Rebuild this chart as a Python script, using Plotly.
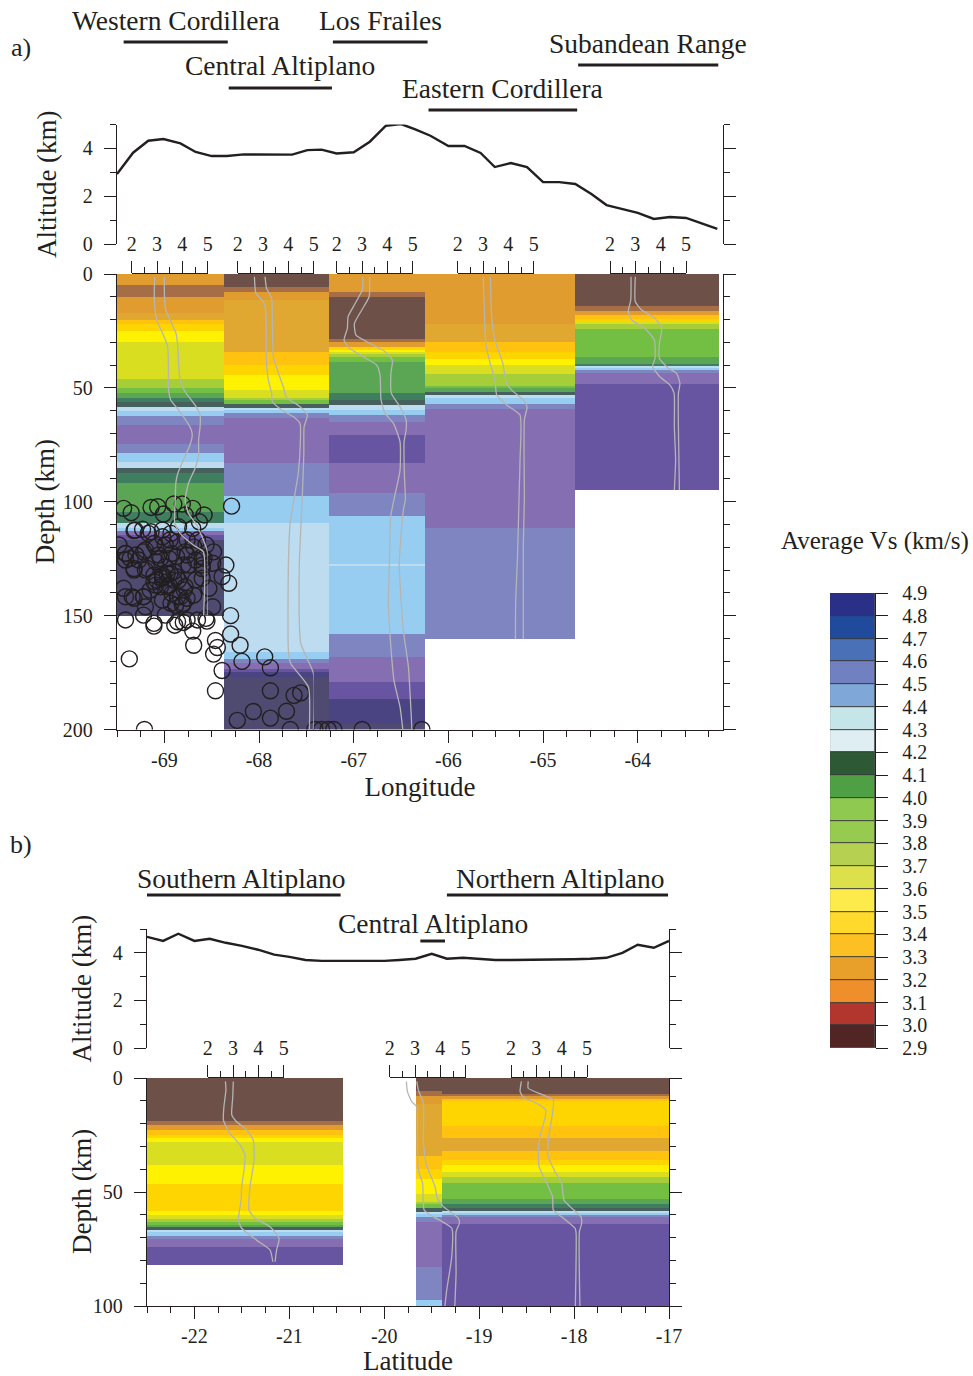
import plotly.graph_objects as go

W, H = 973, 1376
FONT = "Liberation Serif"
INK = "#231f20"

# ---------- data ----------
# Section colours, one per velocity band (Vs value -> colour)
VS_LEVELS = [3.05, 3.15, 3.25, 3.35, 3.45, 3.55, 3.65, 3.75, 3.85, 3.95,
             4.05, 4.15, 4.25, 4.35, 4.45, 4.55, 4.65, 4.75, 4.85, 4.95]
VS_COLORS = ["#6d5048", "#a56e47", "#e09c2f", "#e0a830", "#ffc20e", "#ffd500", "#fff200",
             "#d9df20", "#a6ce39", "#72bf44", "#5aa655", "#3f7f5f", "#46605e", "#bddcf0",
             "#97cdf0", "#7f85c1", "#856fb2", "#6855a2", "#4a4483", "#4f4a70"]

# Colour bar
CB_EDGES = [2.9, 3.0, 3.1, 3.2, 3.3, 3.4, 3.5, 3.6, 3.7, 3.8, 3.9, 4.0, 4.1, 4.2, 4.3, 4.4, 4.5, 4.6, 4.7, 4.8, 4.9]
CB_COLORS = ["#512524", "#b2352e", "#ee8f2c", "#e9a02b", "#fdc022", "#ffd92b", "#fceb4a", "#dce04a",
             "#b6d152", "#96cb50", "#8fc950", "#4fa044", "#2d5a35", "#dfeef2", "#c5e5e8", "#7fa8d8",
             "#7080c0", "#4a70b8", "#204a9c", "#2a3088"]

# Panel a, columns
A_EDGES = [-69.5, -68.367, -67.259, -66.25, -64.667, -63.143]
A1_TOP = [0, 4.8, 10.1, 17.1, 20.2, 21.8, 24.9, 29.9, 46.1, 50.1, 52.3, 54.5, 56.2, 58.4, 60.2, 62.4, 66.3, 74.7, 78.6, 82.6, 85.2, 87.4, 91.8, 104.5, 109.4, 111.5, 113, 114.8, 116.8]
A1_VS = [3.25, 3.15, 3.25, 3.35, 3.45, 3.55, 3.65, 3.75, 3.85, 3.95, 4.05, 4.15, 4.25, 4.35, 4.45, 4.55, 4.65, 4.55, 4.45, 4.35, 4.25, 4.15, 4.05, 4.15, 4.35, 4.45, 4.65, 4.75, 4.95]
A1_END = 150.2
A2_TOP = [0, 5.7, 7.9, 11.4, 34.3, 40, 44.4, 51, 54.5, 55.3, 57.1, 58.9, 59.7, 61, 63.3, 83, 97.5, 109.4, 166, 169, 171, 173.5, 174.8, 177]
A2_VS = [3.05, 3.15, 3.25, 3.35, 3.45, 3.55, 3.65, 3.75, 3.85, 3.95, 4.25, 4.35, 4.45, 4.55, 4.65, 4.55, 4.45, 4.35, 4.45, 4.55, 4.65, 4.75, 4.85, 4.95]
A2_END = 200
A3_TOP = [0, 7.9, 10.1, 28.6, 29.9, 32.1, 33.4, 34.3, 35.1, 36.5, 38.7, 52.3, 55.3, 57.5, 59.7, 61.9, 65, 70.7, 83, 96.3, 106.3, 127.3, 128.2, 158, 168.1, 179, 186.5, 197.5]
A3_VS = [3.25, 3.15, 3.05, 3.15, 3.25, 3.55, 3.65, 3.75, 3.85, 3.95, 4.05, 4.15, 4.25, 4.35, 4.45, 4.55, 4.65, 4.75, 4.65, 4.55, 4.45, 4.35, 4.45, 4.55, 4.65, 4.75, 4.85, 4.95]
A3_END = 200
A4_TOP = [0, 22, 29.9, 34.3, 37.3, 40, 43.9, 49.2, 50.1, 51.8, 53.1, 54.5, 57.1, 59.3, 111.5]
A4_VS = [3.25, 3.35, 3.45, 3.55, 3.65, 3.75, 3.85, 3.95, 4.05, 4.25, 4.35, 4.45, 4.55, 4.65, 4.55]
A4_END = 160.3
A5_TOP = [0, 14.1, 16.3, 18, 19.8, 21.1, 22, 24.2, 36.5, 39.5, 40.4, 41.2, 42.2, 43.5, 45.2, 48.3]
A5_VS = [3.05, 3.15, 3.25, 3.45, 3.55, 3.75, 3.85, 3.95, 4.05, 4.15, 4.35, 4.45, 4.55, 4.65, 4.65, 4.75]
A5_END = 94.9

# Panel b, columns
B_EDGES = [-22.5, -20.44, -19.669, -19.395, -17.0]
B1_TOP = [0, 18.9, 20.6, 22.8, 25, 26.3, 28.1, 38.2, 46.5, 58.3, 60.1, 61.8, 63.2, 64.5, 65.4, 66.7, 67.5, 69.3, 70.6, 74.1]
B1_VS = [3.05, 3.15, 3.25, 3.45, 3.55, 3.65, 3.75, 3.65, 3.55, 3.65, 3.75, 3.85, 3.95, 4.05, 4.25, 4.35, 4.45, 4.55, 4.65, 4.75]
B1_END = 82
B2_TOP = [0, 5.7, 7.9, 11.4, 34.2, 39.9, 44.3, 50.9, 54.4, 55.3, 57, 58.8, 59.6, 61, 63.2, 82.9, 97.4]
B2_VS = [3.05, 3.15, 3.25, 3.35, 3.45, 3.55, 3.65, 3.75, 3.85, 3.95, 4.25, 4.35, 4.45, 4.55, 4.65, 4.55, 4.45]
B2_END = 100
B3_TOP = [0, 7, 7.9, 9.2, 10.1, 21, 26.3, 32, 36, 38.2, 41.2, 43.4, 46.1, 53.1, 55.3, 57, 58.3, 59.2, 60.1, 61, 64]
B3_VS = [3.05, 3.15, 3.25, 3.45, 3.55, 3.45, 3.35, 3.45, 3.55, 3.65, 3.75, 3.85, 3.95, 4.05, 4.15, 4.25, 4.35, 4.45, 4.55, 4.65, 4.75]
B3_END = 100

# Altitude profiles
ALT_A_LON = [-69.5, -69.33, -69.17, -69.01, -68.83, -68.67, -68.5, -68.34, -68.16, -67.99, -67.83, -67.65, -67.49, -67.34, -67.18, -67, -66.83, -66.66, -66.5, -66.35, -66.19, -66, -65.83, -65.66, -65.51, -65.34, -65.17, -65, -64.83, -64.66, -64.49, -64.33, -64.16, -64, -63.83, -63.66, -63.49, -63.32, -63.16]
ALT_A_KM = [2.93, 3.82, 4.32, 4.39, 4.21, 3.85, 3.68, 3.68, 3.75, 3.74, 3.74, 3.74, 3.93, 3.95, 3.79, 3.84, 4.28, 4.95, 5.02, 4.8, 4.53, 4.1, 4.1, 3.81, 3.22, 3.39, 3.22, 2.59, 2.59, 2.51, 2.09, 1.63, 1.46, 1.3, 1.05, 1.13, 1.09, 0.84, 0.63]
ALT_B_LAT = [-22.5, -22.33, -22.17, -22, -21.84, -21.67, -21.5, -21.33, -21.16, -21, -20.83, -20.66, -20.49, -20.33, -20.16, -20, -19.84, -19.67, -19.5, -19.34, -19.17, -19, -18.83, -18.66, -18.49, -18.32, -18.17, -18, -17.83, -17.66, -17.49, -17.33, -17.16, -17]
ALT_B_KM = [4.67, 4.5, 4.8, 4.5, 4.59, 4.42, 4.29, 4.13, 3.92, 3.83, 3.7, 3.66, 3.66, 3.66, 3.66, 3.66, 3.7, 3.75, 3.96, 3.75, 3.79, 3.75, 3.7, 3.7, 3.7, 3.7, 3.7, 3.73, 3.75, 3.79, 4.0, 4.34, 4.21, 4.5]

# Velocity-depth envelopes (Vs km/s, depth km): left and right curve for each column
P_A1_LV = [2.91, 2.89, 2.92, 3.01, 3.25, 3.42, 3.45, 3.45, 3.54, 3.91, 4.33, 4.39, 4.30, 4.04, 3.82, 3.74, 3.72, 3.70, 3.70, 3.91, 4.43, 4.83, 4.84]
P_A1_LD = [1.2, 8.5, 15.8, 20.9, 26.8, 31.9, 42.2, 50.2, 55.3, 60.5, 67.8, 70.7, 75.1, 81.7, 87.5, 91.9, 99, 103.7, 109.5, 113.9, 119, 122, 149.8]
P_A1_RV = [3.29, 3.29, 3.34, 3.55, 3.75, 3.82, 3.86, 3.91, 4.11, 4.50, 4.70, 4.70, 4.64, 4.64, 4.50, 4.24, 4.11, 4.24, 4.57, 4.99, 4.99]
P_A1_RD = [1.2, 8.5, 15.8, 20.9, 26.1, 31.9, 40.7, 46.6, 51.7, 57.5, 61.9, 67.1, 72.9, 79.5, 85.4, 91.9, 99.3, 105.1, 110.3, 122, 149.8]
P_A2_LV = [2.66, 2.72, 3.01, 3.11, 3.13, 3.21, 3.34, 3.37, 3.74, 4.20, 4.46, 4.46, 4.39, 4.26, 4.07, 4.0, 4.0, 4.09, 4.79, 4.83]
P_A2_LD = [1.2, 8.5, 12.2, 15.8, 37.8, 46.6, 52.4, 56.1, 59.7, 62.7, 65.6, 77.3, 87.6, 96.4, 109.5, 128.6, 165.2, 171, 181.3, 200]
P_A2_RV = [3.08, 3.14, 3.34, 3.37, 3.41, 3.61, 3.80, 3.91, 4.46, 4.75, 4.62, 4.61, 4.55, 4.43, 4.49, 4.99, 4.99]
P_A2_RD = [1.2, 6.3, 10.7, 23.1, 36.3, 43.6, 49.5, 53.9, 58.3, 61.9, 67.1, 78.8, 97.8, 128.6, 162.2, 175.4, 200]
P_A3_LV = [3.03, 3.01, 2.66, 2.45, 2.42, 2.29, 2.46, 3.05, 3.58, 3.71, 3.75, 3.91, 4.24, 4.50, 4.50, 4.26, 4.13, 4.08, 4.04, 4.11, 4.26, 4.50, 4.61]
P_A3_LD = [1.2, 7, 14.3, 18.7, 23.9, 29, 32.2, 36.3, 40, 44.4, 55.3, 61.2, 65.6, 73.6, 86.1, 99.1, 106.6, 127.4, 144.7, 159.3, 178.4, 190.1, 200]
P_A3_RV = [3.30, 3.28, 2.99, 2.70, 2.76, 3.32, 3.91, 4.20, 4.14, 4.16, 4.50, 4.74, 4.74, 4.66, 4.67, 4.71, 4.63, 4.47, 4.63, 4.83, 4.97]
P_A3_RD = [1.2, 10, 15.8, 21.7, 26.8, 30.5, 34.1, 37.8, 43.6, 52.4, 58.3, 64.1, 68.5, 73.6, 87.6, 99.1, 103.7, 127.4, 156.4, 172.5, 200]
P_A4_LV = [3.01, 3.05, 3.11, 3.28, 3.47, 3.54, 3.93, 4.46, 4.46, 4.43, 4.36, 4.29, 4.28]
P_A4_LD = [1.2, 15.8, 30.5, 39.2, 46.6, 53.1, 57.5, 61.9, 81.7, 94.9, 124.2, 143.2, 160.3]
P_A4_RV = [3.29, 3.34, 3.47, 3.78, 3.93, 4.13, 4.59, 4.74, 4.63, 4.63, 4.59, 4.59]
P_A4_RD = [1.2, 18.7, 29, 39.2, 48, 51, 55.3, 58.3, 64.1, 99.1, 119.8, 160.3]
P_A5_LV = [2.83, 2.82, 2.72, 2.86, 3.38, 3.75, 3.78, 3.68, 3.97, 4.37, 4.53, 4.54, 4.59, 4.54]
P_A5_LD = [1.2, 11.4, 16.5, 20.2, 23.9, 29, 37, 40.7, 45.1, 48.8, 52.4, 67.1, 81.7, 94.9]
P_A5_RV = [3.0, 3.0, 3.25, 3.78, 4.04, 3.95, 3.95, 4.30, 4.63, 4.76, 4.70, 4.70, 4.74]
P_A5_RD = [1.2, 12.2, 15.8, 19.5, 23.9, 30.5, 37, 41.4, 43.6, 48, 52.4, 67.1, 94.9]
P_B1_LV = [2.70, 2.72, 2.64, 2.62, 2.82, 3.28, 3.47, 3.45, 3.34, 3.32, 3.21, 3.34, 3.93, 4.46, 4.57]
P_B1_LD = [1.5, 5.3, 12.6, 18.4, 23.5, 29.4, 33.8, 38.9, 47.7, 53.5, 62.3, 65.9, 71.1, 75.4, 80.6]
P_B1_RV = [3.01, 2.99, 2.95, 3.14, 3.54, 3.80, 3.83, 3.67, 3.63, 3.87, 4.46, 4.82, 4.72, 4.66]
P_B1_RD = [1.5, 8.2, 16.2, 19.2, 22.8, 27.2, 36, 47.7, 57.9, 61.5, 65.2, 70.3, 75.4, 80.6]
P_B2_LV = [2.66, 2.70, 2.87, 3.07, 3.09, 3.13, 3.30, 3.36, 3.72, 4.45, 4.45, 4.25, 4.18]
P_B2_LD = [1.5, 6, 10.4, 12.6, 27.2, 40.4, 46.2, 57.9, 60.8, 65.9, 78.4, 93, 100]
P_B2_RV = [3.07, 3.13, 3.33, 3.33, 3.43, 3.79, 3.88, 4.12, 4.71, 4.75, 4.62, 4.62, 4.57]
P_B2_RD = [1.5, 5.3, 11.1, 27.2, 37.4, 47.7, 52.8, 56.4, 61.5, 63.7, 67.4, 85.7, 100]
P_B3_LV = [2.41, 2.36, 2.49, 3.01, 3.37, 3.34, 3.14, 3.08, 3.11, 3.41, 3.64, 3.67, 4.07, 4.53, 4.57, 4.54]
P_B3_LD = [1.5, 6, 8.5, 11.1, 14, 17.7, 25.7, 33, 38.9, 46.2, 52, 57.9, 61.5, 65.9, 68.1, 100]
P_B3_RV = [2.68, 2.68, 3.28, 3.67, 3.64, 3.47, 3.47, 3.74, 4.0, 4.09, 4.33, 4.76, 4.79, 4.70, 4.72]
P_B3_RD = [1.5, 4.5, 7.5, 9.6, 15.5, 27.2, 34.5, 41.1, 46.2, 53.5, 56.4, 60.8, 63.7, 67.4, 100]

# Earthquakes
EQ_LON = [-69.43, -69.35, -69.14, -69.07, -69.01, -68.90, -68.81, -68.70, -68.58, -68.63, -68.78, -69.32, -69.23, -69.14, -69.02, -68.93, -68.85, -68.70, -68.56, -68.48, -68.65, -68.76, -68.86, -68.99, -69.09, -69.20, -69.30, -69.41, -69.48, -68.92, -69.06, -68.76, -68.60,
          -69.41, -69.32, -69.20, -69.09, -68.99, -68.90, -69.02, -69.09, -68.95, -68.85, -68.79, -68.86, -68.93, -68.81, -68.76, -68.69, -68.60, -68.49, -68.60, -68.53, -69.43, -69.34, -69.22, -69.20, -69.41, -69.22, -68.99, -68.49, -68.35, -68.39, -68.32, -68.30, -69.11, -68.86, -68.76, -68.65, -68.56, -69.02, -68.97, -68.90, -69.11, -68.74, -68.67,
          -68.29, -69.11, -68.70, -68.69, -68.46, -68.44, -68.48, -68.39, -68.46, -69.21, -69.37, -68.30, -68.20, -68.18, -67.94, -67.88, -67.88, -67.56, -67.63, -67.71, -67.88, -68.06, -68.23, -67.67, -67.41, -67.34, -67.27, -67.21, -68.89, -68.80, -68.55, -66.91, -66.28,
          -69.08, -69.01, -68.94, -68.97, -69.04, -69.11, -68.87, -68.80, -68.87, -68.95, -69.04, -69.18, -69.27, -69.36, -69.41, -69.32, -69.22, -69.15, -69.02, -68.92, -68.83, -68.78, -68.67, -68.60, -68.58, -68.69, -68.78, -68.88, -68.80, -69.22, -69.11, -68.94, -69.02, -69.17, -69.31, -69.41, -69.32]
EQ_DEPTH = [102.9, 104.8, 102.5, 102.2, 105.4, 101, 101, 102.9, 105.8, 108.8, 105.8, 112.7, 112.1, 113.2, 115.4, 113.9, 111, 111.7, 119, 122, 116.8, 116.8, 117.6, 119, 119.8, 121.2, 123.4, 122.7, 119, 122.7, 123.4, 123.4, 124.1,
            125.6, 129.3, 130, 126.3, 128.5, 130.7, 133.6, 136.6, 136.6, 134.4, 138.8, 141.7, 144.6, 145.4, 142.4, 141, 129.3, 127, 133.6, 138, 138, 141.7, 141.7, 146.1, 151.9, 149.8, 149.8, 146.1, 127.8, 132.9, 135.8, 150, 153.4, 152.7, 151.9, 151.9, 151.2, 132.2, 131.5, 134.4, 132.2, 127.8, 125.6,
            101.9, 154.6, 156.8, 163, 160.9, 164, 166.9, 174.1, 183, 200, 169, 158.1, 163, 170.1, 168.1, 172.9, 183, 183.9, 185, 192, 195, 192.1, 196, 200, 200, 200, 200, 200, 154.2, 153, 152.4, 200, 200,
            134.4, 132.9, 131.5, 137.3, 137.3, 135.1, 132.9, 127.8, 124.1, 124.9, 124.9, 129.3, 125.6, 124.9, 122.7, 130, 141.7, 138.8, 143.2, 140.3, 141.7, 137.3, 134.4, 127.8, 124.9, 119.8, 122, 145.4, 144.6, 122, 118.3, 116.8, 112.4, 113.9, 112.4, 141.7, 142.4]

# Region bars
REG_A = ["Western Cordillera", "Los Frailes", "Central Altiplano", "Subandean Range", "Eastern Cordillera"]
REG_A_START = [-69.43, -67.22, -68.32, -64.63, -66.21]
REG_A_END = [-68.33, -66.22, -67.23, -63.15, -64.64]
REG_B = ["Southern Altiplano", "Northern Altiplano", "Central Altiplano"]
REG_B_START = [-22.5, -19.34, -19.62]
REG_B_END = [-20.46, -17.01, -19.36]
REG_B_TEXT = [-21.5, -18.14, -19.49]

LON_TICKS = [-69, -68, -67, -66, -65, -64]
LAT_TICKS = [-22, -21, -20, -19, -18, -17]
VS_TICKS = [2, 3, 4, 5]


# ---------- helpers: positions are given in page pixels ----------
def dx(a, b):
    return [a / W, b / W]


def dy(top, bottom):
    return [1 - bottom / H, 1 - top / H]


def yp(px):
    return 1 - px / H


def xp(px):
    return px / W


COLOR_OF = dict(zip(VS_LEVELS, VS_COLORS))
AXIS = dict(showgrid=False, zeroline=False, showline=True, linecolor=INK, linewidth=1.4,
            tickcolor=INK, tickwidth=1.3, ticks="outside",
            tickfont=dict(family=FONT, size=20, color=INK))
TITLE_FONT = dict(family=FONT, size=27, color=INK)


def minor(step):
    return dict(ticks="outside", dtick=step, tick0=0, ticklen=6, tickwidth=1.2, tickcolor=INK, showgrid=False)


fig = go.Figure()


def column(left, right, tops, vs, end, xa, ya):
    bottoms = tops[1:] + [end]
    fig.add_trace(go.Bar(
        x=[(left + right) / 2] * len(tops),
        y=[b - t for t, b in zip(tops, bottoms)],
        base=tops, width=right - left,
        marker=dict(color=[COLOR_OF[v] for v in vs], line=dict(width=0)),
        xaxis=xa, yaxis=ya, showlegend=False, hoverinfo="skip"))


for i, (t, v, e) in enumerate([(A1_TOP, A1_VS, A1_END), (A2_TOP, A2_VS, A2_END), (A3_TOP, A3_VS, A3_END),
                               (A4_TOP, A4_VS, A4_END), (A5_TOP, A5_VS, A5_END)]):
    column(A_EDGES[i], A_EDGES[i + 1], t, v, e, "x2", "y2")
column(B_EDGES[0], B_EDGES[1], B1_TOP, B1_VS, B1_END, "x4", "y4")
column(B_EDGES[2], B_EDGES[3], B2_TOP, B2_VS, B2_END, "x4", "y4")
column(B_EDGES[3], B_EDGES[4], B3_TOP, B3_VS, B3_END, "x4", "y4")

fig.add_trace(go.Scatter(x=ALT_A_LON, y=ALT_A_KM, mode="lines", line=dict(color=INK, width=2.4),
                         xaxis="x", yaxis="y", showlegend=False, cliponaxis=False, hoverinfo="skip"))
fig.add_trace(go.Scatter(x=ALT_B_LAT, y=ALT_B_KM, mode="lines", line=dict(color=INK, width=2.4),
                         xaxis="x3", yaxis="y3", showlegend=False, cliponaxis=False, hoverinfo="skip"))

fig.add_trace(go.Scatter(x=EQ_LON, y=EQ_DEPTH, mode="markers",
                         marker=dict(symbol="circle-open", size=16, color=INK, line=dict(width=1.4, color=INK)),
                         xaxis="x2", yaxis="y2", showlegend=False, hoverinfo="skip"))

fig.add_trace(go.Bar(x=[0.5] * len(CB_COLORS), y=[b - a for a, b in zip(CB_EDGES[:-1], CB_EDGES[1:])],
                     base=CB_EDGES[:-1], width=1,
                     marker=dict(color=CB_COLORS, line=dict(width=0.8, color="#333333")),
                     xaxis="x5", yaxis="y5", showlegend=False, hoverinfo="skip"))

# Profile axes: (pixel of Vs=2, section y axis)
PROFILES = [(131.7, "y2", P_A1_LV, P_A1_LD, P_A1_RV, P_A1_RD),
            (237.7, "y2", P_A2_LV, P_A2_LD, P_A2_RV, P_A2_RD),
            (336.7, "y2", P_A3_LV, P_A3_LD, P_A3_RV, P_A3_RD),
            (457.7, "y2", P_A4_LV, P_A4_LD, P_A4_RV, P_A4_RD),
            (610.0, "y2", P_A5_LV, P_A5_LD, P_A5_RV, P_A5_RD),
            (207.7, "y4", P_B1_LV, P_B1_LD, P_B1_RV, P_B1_RD),
            (389.7, "y4", P_B2_LV, P_B2_LD, P_B2_RV, P_B2_RD),
            (511.0, "y4", P_B3_LV, P_B3_LD, P_B3_RV, P_B3_RD)]

layout = dict(
    width=W, height=H, margin=dict(l=0, r=0, t=0, b=0, autoexpand=False), autosize=False,
    paper_bgcolor="white", plot_bgcolor="rgba(0,0,0,0)", barmode="overlay", bargap=0,
    showlegend=False, font=dict(family=FONT, color=INK),
    xaxis=dict(domain=dx(117, 723), range=[-69.5, -63.1], visible=False, anchor="y"),
    yaxis=dict(**AXIS, domain=dy(124.5, 244), range=[0, 5], tickvals=[0, 2, 4], ticklen=12, mirror="ticks",
               minor=minor(1), anchor="x", ticklabelstandoff=7,
               title=dict(text="Altitude (km)", font=TITLE_FONT, standoff=18)),
    xaxis2=dict(**AXIS, domain=dx(117, 723), range=[-69.5, -63.1], anchor="y2", tickvals=LON_TICKS,
                ticktext=[str(v) for v in LON_TICKS], ticklen=12, minor=minor(0.25),
                title=dict(text="Longitude", font=TITLE_FONT, standoff=7)),
    yaxis2=dict(**AXIS, domain=dy(274, 729.5), range=[200, 0], tickvals=[0, 50, 100, 150, 200], ticklen=12,
                mirror="ticks", minor=minor(10), anchor="x2", ticklabelstandoff=7,
                title=dict(text="Depth (km)", font=TITLE_FONT, standoff=0)),
    xaxis3=dict(domain=dx(147, 669), range=[-22.5, -17], visible=False, anchor="y3"),
    yaxis3=dict(**AXIS, domain=dy(929, 1048), range=[0, 5], tickvals=[0, 2, 4], ticklen=12, mirror="ticks",
                minor=minor(1), anchor="x3", ticklabelstandoff=7,
                title=dict(text="Altitude (km)", font=TITLE_FONT, standoff=13)),
    xaxis4=dict(**AXIS, domain=dx(147, 669), range=[-22.5, -17], anchor="y4", tickvals=LAT_TICKS,
                ticktext=[str(v) for v in LAT_TICKS], ticklen=12, minor=minor(0.25),
                title=dict(text="Latitude", font=TITLE_FONT, standoff=8)),
    yaxis4=dict(**AXIS, domain=dy(1078, 1306), range=[100, 0], tickvals=[0, 50, 100], ticklen=12, mirror="ticks",
                minor=minor(10), anchor="x4", ticklabelstandoff=7),
    xaxis5=dict(domain=dx(830, 875), range=[0, 1], visible=False, anchor="y5"),
    yaxis5=dict(**AXIS, domain=dy(593, 1048), range=[2.9, 4.9], side="right", anchor="x5",
                tickvals=CB_EDGES, ticktext=[f"{v:.1f}" for v in CB_EDGES], ticklen=12, ticklabelstandoff=10),
)

for n, (x0, ya, lv, ld, rv, rd) in enumerate(PROFILES):
    k = n + 6
    xa = f"x{k}"
    layout[f"xaxis{k}"] = dict(**AXIS, domain=dx(x0, x0 + 76), range=[2, 5], anchor=ya, side="top",
                               tickvals=VS_TICKS, ticklen=12, minor=dict(ticks="outside", dtick=0.5, tick0=2, ticklen=6,
                                                                        tickwidth=1.2, tickcolor=INK, showgrid=False),
                               ticklabelstandoff=2)
    for vs_line, d_line in ((lv, ld), (rv, rd)):
        fig.add_trace(go.Scatter(x=vs_line, y=d_line, mode="lines", line=dict(color="#b5b5b5", width=1.3, shape="spline", smoothing=0.5),
                                 xaxis=xa, yaxis=ya, showlegend=False, cliponaxis=False, hoverinfo="skip"))

fig.update_layout(**layout)

# Region bars and labels
BAR_Y_A = [42, 42, 88, 65, 110]
TXT_Y_A = [21, 21, 66, 43, 88]
for name, a, b, by, ty in zip(REG_A, REG_A_START, REG_A_END, BAR_Y_A, TXT_Y_A):
    fig.add_shape(type="line", xref="x", yref="paper", x0=a, x1=b, y0=yp(by), y1=yp(by), line=dict(color=INK, width=3))
    fig.add_annotation(text=name, xref="x", yref="paper", x=(a + b) / 2, y=yp(ty), showarrow=False,
                       font=dict(family=FONT, size=27.5, color=INK), xanchor="center", yanchor="middle")
BAR_Y_B = [895, 895, 941]
TXT_Y_B = [878, 878, 923]
for name, a, b, tx, by, ty in zip(REG_B, REG_B_START, REG_B_END, REG_B_TEXT, BAR_Y_B, TXT_Y_B):
    fig.add_shape(type="line", xref="x3", yref="paper", x0=a, x1=b, y0=yp(by), y1=yp(by), line=dict(color=INK, width=3))
    fig.add_annotation(text=name, xref="x3", yref="paper", x=tx, y=yp(ty), showarrow=False,
                       font=dict(family=FONT, size=27.5, color=INK), xanchor="center", yanchor="middle")

for text, px, py, size in (("a)", 21, 48, 26), ("b)", 21, 844, 26), ("Average Vs (km/s)", 875, 541, 25)):
    fig.add_annotation(text=text, xref="paper", yref="paper", x=xp(px), y=yp(py), showarrow=False,
                       font=dict(family=FONT, size=size, color=INK), xanchor="center", yanchor="middle")
fig.add_annotation(text="Depth (km)", xref="paper", yref="paper", x=xp(82), y=yp(1192), showarrow=False, textangle=-90,
                   font=TITLE_FONT, xanchor="center", yanchor="middle")

fig.write_html("out.html", config={"displayModeBar": False}, post_script="document.body.style.margin='0';")
